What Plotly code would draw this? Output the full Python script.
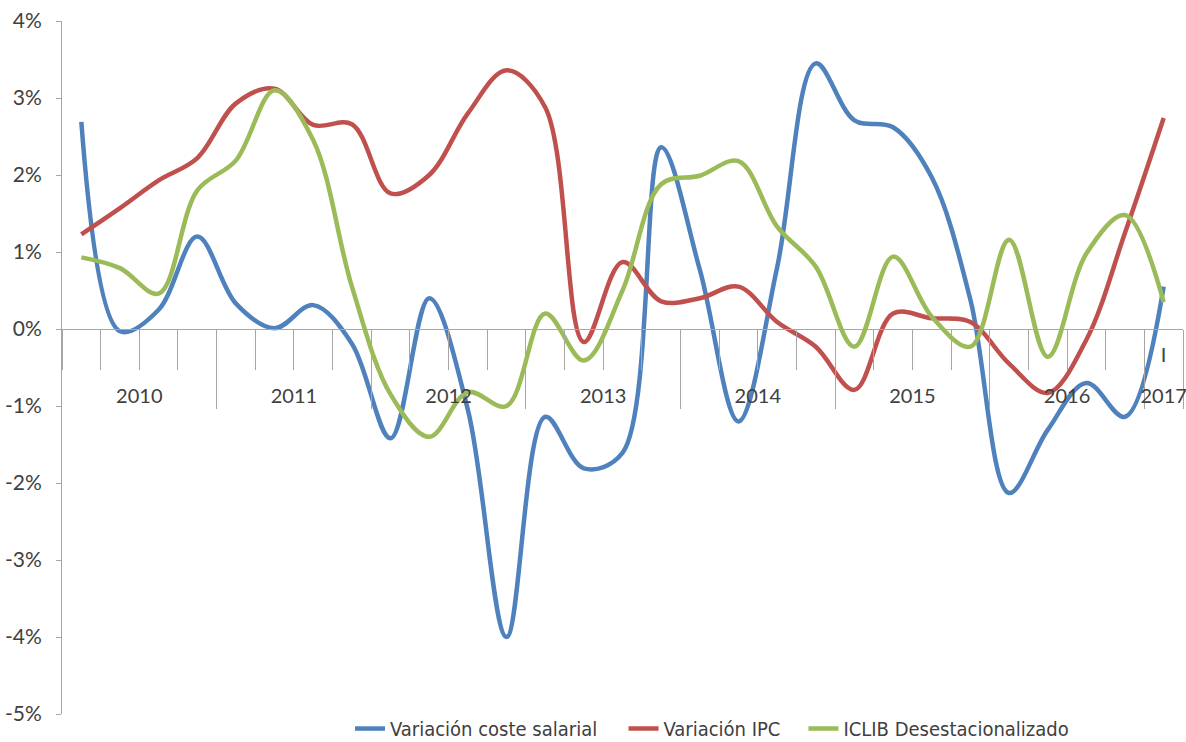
import plotly.graph_objects as go

# ---- data (percent) ----
years = ["2010", "2011", "2012", "2013", "2014", "2015", "2016", "2017"]
quarters = ["I", "II", "III", "IV"]
categories = [f"{y} {q}" for y in years[:-1] for q in quarters] + ["2017 I"]

coste_salarial = [2.69, -0.03, 0.25, 1.20, 0.33, 0.01, 0.31, -0.19,
                  -1.42, 0.40, -1.05, -4.00, -1.14, -1.81, -1.61, 2.36,
                  0.77, -1.20, 0.80, 3.45, 2.71, 2.62, 1.97, 0.38,
                  -2.13, -1.31, -0.70, -1.14, 0.55]
ipc = [1.23, 1.57, 1.93, 2.22, 2.93, 3.12, 2.65, 2.66,
       1.76, 2.00, 2.80, 3.36, 2.88, -0.17, 0.87, 0.36,
       0.40, 0.55, 0.09, -0.23, -0.79, 0.20, 0.14, 0.09,
       -0.45, -0.83, -0.14, 1.25, 2.74]
iclib = [0.93, 0.79, 0.46, 1.80, 2.19, 3.10, 2.45, 0.55,
         -0.85, -1.40, -0.82, -1.00, 0.20, -0.41, 0.50, 1.88,
         1.99, 2.18, 1.33, 0.81, -0.23, 0.94, 0.16, -0.23,
         1.16, -0.36, 0.98, 1.48, 0.35]

series_names = ["Variación coste salarial", "Variación IPC", "ICLIB Desestacionalizado"]
series_colors = ["#4F81BD", "#C0504D", "#9BBB59"]
y_ticks = [-5, -4, -3, -2, -1, 0, 1, 2, 3, 4]

# ---- derived axis helpers ----
n = len(categories)
year_counts = [sum(1 for c in categories if c.startswith(y)) for y in years]
bounds, centers, pos = [], [], -0.5
for cnt in year_counts:
    centers.append(pos + cnt / 2)
    pos += cnt
    bounds.append(pos)

ymin, ymax = y_ticks[0], y_ticks[-1]
zero_pos = (0 - ymin) / (ymax - ymin)

label_font = dict(family="Lato, 'Open Sans', sans-serif", size=21, color="#404040")
xlabel_font = dict(family="Lato, 'Open Sans', sans-serif", size=20, color="#404040")
legend_font = dict(family="'Liberation Sans Narrow', 'DejaVu Sans Condensed', 'Roboto Condensed', sans-serif",
                   size=20, color="#404040")
axis_gray = "#a6a6a6"

legend_ids = ["legend", "legend2", "legend3"]
legend_x = [0.2569, 0.5009, 0.6614]

fig = go.Figure()
for name, vals, col, lg in zip(series_names, [coste_salarial, ipc, iclib], series_colors, legend_ids):
    fig.add_trace(go.Scatter(
        x=categories, y=vals, name=name, mode="lines", legend=lg,
        line=dict(color=col, width=4.5, shape="spline", smoothing=1.0),
    ))

# empty helper traces so the overlaying label/divider axes get drawn
for ax in ["x2", "x3", "x4"]:
    fig.add_trace(go.Scatter(x=[None], y=[None], xaxis=ax, yaxis="y",
                             mode="lines", showlegend=False, hoverinfo="skip"))

legend_layout = {}
for lg, lx in zip(legend_ids, legend_x):
    legend_layout[lg] = dict(
        orientation="h", x=lx, xanchor="left", y=-0.021, yanchor="middle",
        font=legend_font, bgcolor="rgba(0,0,0,0)", itemwidth=30,
    )

fig.update_layout(
    width=1186, height=742,
    paper_bgcolor="white", plot_bgcolor="white",
    margin=dict(l=62, r=3, t=21, b=28, autoexpand=False),
    showlegend=True,
    **legend_layout,
    xaxis=dict(
        type="category", categoryorder="array", categoryarray=categories,
        range=[-0.5, n - 0.5], anchor="free", position=zero_pos,
        showline=True, linecolor=axis_gray, linewidth=1,
        ticks="outside", tickson="boundaries", ticklen=40, tickcolor=axis_gray, tickwidth=1,
        showticklabels=False, showgrid=False, zeroline=False,
    ),
    xaxis2=dict(
        overlaying="x", type="linear", range=[-0.5, n - 0.5], anchor="free", position=zero_pos,
        tickmode="array", tickvals=bounds, ticks="outside", ticklen=79,
        tickcolor=axis_gray, tickwidth=1, showticklabels=False,
        showline=False, showgrid=False, zeroline=False,
    ),
    xaxis3=dict(
        overlaying="x", type="linear", range=[-0.5, n - 0.5], anchor="free", position=zero_pos,
        tickmode="array", tickvals=centers, ticktext=years, ticks="outside", ticklen=49,
        tickcolor="rgba(0,0,0,0)", tickfont=xlabel_font, ticklabeloverflow="allow",
        showline=False, showgrid=False, zeroline=False,
    ),
    xaxis4=dict(
        overlaying="x", type="linear", range=[-0.5, n - 0.5], anchor="free", position=zero_pos,
        tickmode="array", tickvals=[n - 1], ticktext=[quarters[0]], ticks="outside", ticklen=8,
        tickcolor="rgba(0,0,0,0)", tickfont=xlabel_font, ticklabeloverflow="allow",
        showline=False, showgrid=False, zeroline=False,
    ),
    yaxis=dict(
        range=[ymin, ymax], tickmode="array", tickvals=y_ticks,
        ticktext=[f"{v}%" for v in y_ticks],
        showline=True, linecolor=axis_gray, linewidth=1,
        ticks="outside", ticklen=5, tickcolor=axis_gray,
        tickfont=label_font, ticklabelstandoff=10,
        showgrid=False, zeroline=False,
    ),
)

fig.write_html("out.html", config={"displayModeBar": False},
               post_script="document.body.style.margin='0';")
